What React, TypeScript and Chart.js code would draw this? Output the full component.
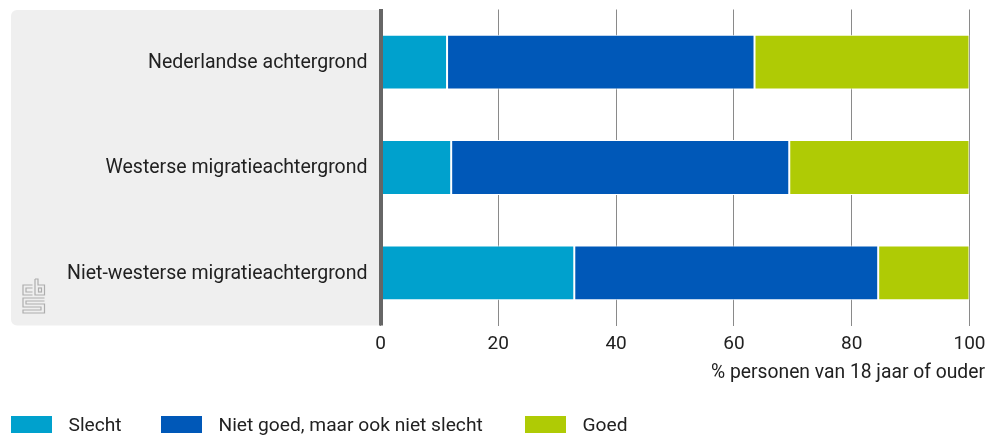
import React, { useEffect, useRef } from "react";
import { Chart, registerables } from "chart.js";

Chart.register(...registerables);

const categories = [
  "Nederlandse achtergrond",
  "Westerse migratieachtergrond",
  "Niet-westerse migratieachtergrond",
];
const slecht = [11.3, 12.0, 32.9];
const nietGoed = [52.2, 57.4, 51.6];
const goed = [36.5, 30.6, 15.5];
const seriesNames = ["Slecht", "Niet goed, maar ook niet slecht", "Goed"];
const seriesColors = ["#00A1CD", "#0058B8", "#AFCB05"];
const xTicks = [0, 20, 40, 60, 80, 100];
const axisTitle = "% personen van 18 jaar of ouder";

const FONT = "Roboto, sans-serif";
const TEXT = "#212121";

const decor = {
  id: "decor",
  beforeDraw(chart: any) {
    const { ctx, chartArea } = chart;
    const l = 11, t = 10, r = chartArea.left, b = chartArea.bottom;
    ctx.save();
    ctx.fillStyle = "#EFEFEF";
    ctx.beginPath();
    ctx.roundRect(l, t, r - l, b - t, [6, 0, 0, 6]);
    ctx.fill();
    // logo
    ctx.translate(22, 278);
    ctx.strokeStyle = "#ADADAD";
    ctx.lineWidth = 1.2;
    const p = (pts: number[][]) => {
      ctx.beginPath();
      pts.forEach((q, i) => (i ? ctx.lineTo(q[0], q[1]) : ctx.moveTo(q[0], q[1])));
      ctx.stroke();
    };
    p([[10.5, 7], [1, 7], [1, 17], [10.5, 17]]);
    p([[10.5, 10], [4, 10], [4, 14], [10.5, 14]]);
    p([[13, 1], [13, 17], [22.5, 17], [22.5, 7], [16, 7], [16, 1], [13, 1]]);
    ctx.strokeRect(16.5, 10, 3, 4);
    p([[22.5, 20], [1, 20], [1, 29], [19, 29], [19, 32], [1, 32], [1, 35], [22.5, 35], [22.5, 26], [4, 26], [4, 23], [22.5, 23]]);
    ctx.restore();
  },
  afterDraw(chart: any) {
    const { ctx, chartArea } = chart;
    ctx.save();
    ctx.fillStyle = TEXT;
    ctx.font = `19.3px ${FONT}`;
    ctx.textAlign = "right";
    ctx.textBaseline = "middle";
    ctx.fillText(axisTitle, 985, 373);
    ctx.fillStyle = "#666666";
    ctx.fillRect(chartArea.left - 1.5, chartArea.top - 0.5, 4, chartArea.bottom - chartArea.top + 0.5);
    ctx.restore();
  },
};

export default function App() {
  const ref = useRef<HTMLCanvasElement>(null);
  useEffect(() => {
    const chart = new Chart(ref.current!, {
      type: "bar",
      data: {
        labels: categories,
        datasets: [slecht, nietGoed, goed].map((data, i) => ({
          label: seriesNames[i],
          data,
          backgroundColor: seriesColors[i],
          borderColor: "#FFFFFF",
          borderWidth: 1,
          borderSkipped: false,
          categoryPercentage: 0.52,
          barPercentage: 1,
        })),
      },
      options: {
        indexAxis: "y",
        responsive: false,
        animation: false,
        layout: { autoPadding: false, padding: { top: 9.5, right: 26.5, bottom: 0, left: 0 } },
        plugins: { legend: { display: false }, tooltip: { enabled: false } },
        scales: {
          x: {
            stacked: true,
            min: 0,
            max: 100,
            afterFit: (s: any) => { s.height = 109.5; s.paddingLeft = 0; s.paddingRight = 0; },
            afterBuildTicks: (s: any) => { s.ticks = xTicks.map((value) => ({ value })); },
            grid: { color: "#8A8A8A", lineWidth: 1, drawTicks: false },
            border: { display: false },
            ticks: { color: TEXT, font: { family: FONT, size: 19 }, padding: 7.5, maxRotation: 0 },
          },
          y: {
            stacked: true,
            afterFit: (s: any) => { s.width = 380.5; s.paddingTop = 0; s.paddingBottom = 0; },
            grid: { display: false },
            border: { display: false },
            ticks: { color: TEXT, font: { family: FONT, size: 19.5 }, padding: 5, labelOffset: 1 },
          },
        },
      },
      plugins: [decor],
    } as any);
    return () => chart.destroy();
  }, []);
  const legendX = [11, 161, 525];
  return (
    <div style={{ position: "absolute", left: 0, top: 0, width: 996, height: 435, background: "#fff", overflow: "hidden" }}>
      <canvas ref={ref} width={996} height={435} style={{ display: "block" }} />
      {seriesNames.map((n, i) => (
        <div key={n} style={{ position: "absolute", left: legendX[i], top: 416, display: "flex", alignItems: "center", height: 17, font: `19.2px ${FONT}`, color: TEXT, whiteSpace: "nowrap" }}>
          <span style={{ display: "inline-block", width: 41, height: 17, background: seriesColors[i], marginRight: 16.5 }} />
          {n}
        </div>
      ))}
    </div>
  );
}
